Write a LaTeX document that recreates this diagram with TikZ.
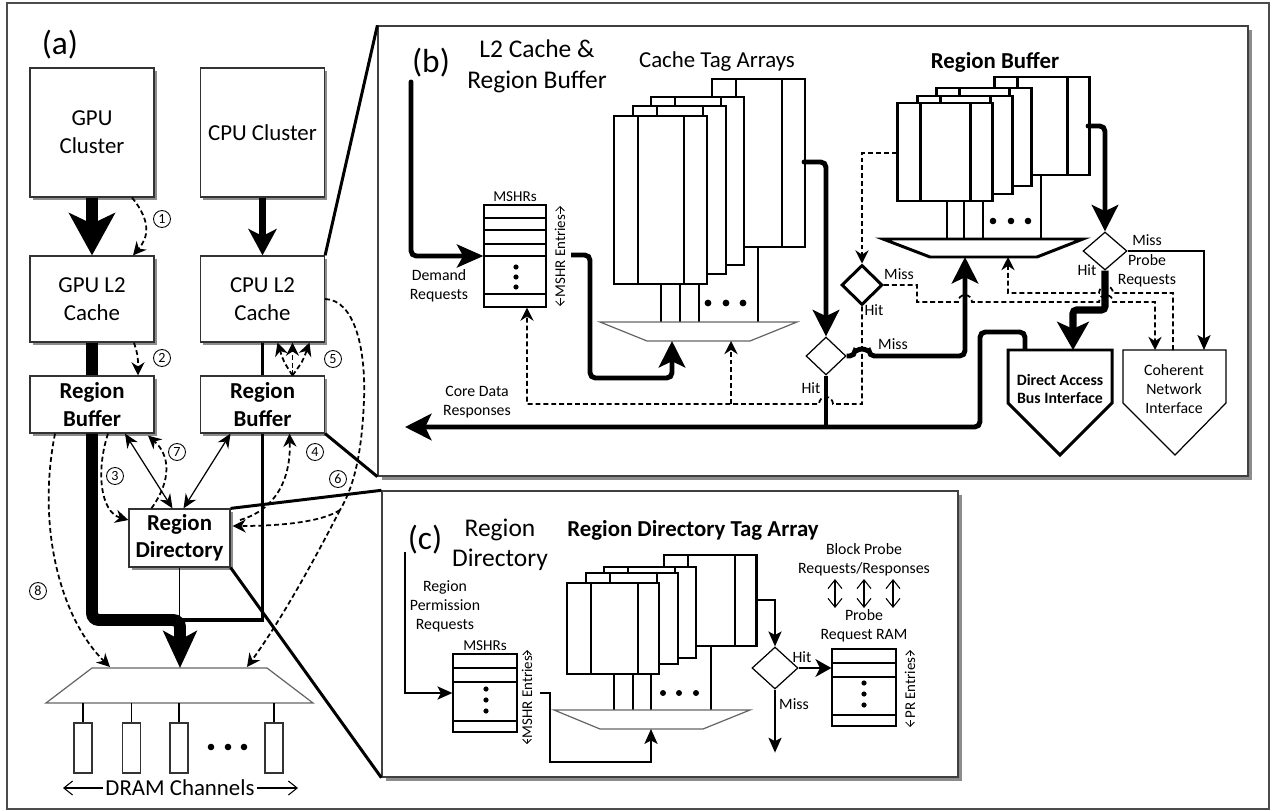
\documentclass[tikz,border=0pt]{standalone}
\usepackage{fontspec}
\setmainfont{Carlito}
\usetikzlibrary{arrows.meta,shapes.geometric,shadows,calc,positioning}
\newcommand\fsz[2]{\fontsize{#1}{#2}\selectfont}

\begin{document}
\begin{tikzpicture}[x=0.02cm, y=-0.02cm,
  box/.style={draw=black!80, line width=0.7pt, fill=white, align=center, inner sep=0pt,
    font=\fsz{13}{16}, drop shadow={shadow xshift=1.6pt, shadow yshift=-1.6pt, fill=black!45, opacity=1}},
  rbox/.style={box, font=\bfseries\fsz{13}{15.5}},
  panel/.style={draw=black!75, line width=0.8pt, fill=white, inner sep=0pt,
    drop shadow={shadow xshift=2.2pt, shadow yshift=-2.2pt, fill=black!45, opacity=1}},
  lbl/.style={font=\fsz{9}{10.8}, align=center, inner sep=1pt},
  cnum/.style={circle, draw, line width=0.5pt, inner sep=0pt, minimum size=0.34cm, font=\fsz{8}{8}},
  dsh/.style={line width=1pt, dash pattern=on 2.8pt off 1.7pt, -{Stealth[length=7.5pt,width=7.5pt]}},
  thk/.style={line width=2.8pt, rounded corners=3pt},
  bigtip/.style={-{Stealth[length=15pt,width=15pt,inset=3.5pt]}},
  tline/.style={line width=0.9pt, -{Stealth[length=8.5pt,width=7.5pt,inset=2pt]}},
  slim/.style={line width=0.6pt},
  tbl/.style={draw, line width=0.7pt, fill=white, inner sep=0pt},
  dia/.style={diamond, draw, line width=0.7pt, fill=white, inner sep=0pt},
  mux/.style={draw=black!60, line width=0.7pt, fill=white},
  entries/.style={rotate=90, font=\fsz{8.5}{9}, fill=white, inner sep=0.6pt},
  spanarr/.style={line width=0.5pt, {Straight Barb[length=2.5pt,width=5pt]}-{Straight Barb[length=2.5pt,width=5pt]}},
  openarr/.style={line width=0.6pt, -{Straight Barb[length=5pt,width=8pt]}},
  dbl/.style={line width=0.7pt, {Stealth[length=8pt,width=7pt]}-{Stealth[length=8pt,width=7pt]}},
]
\useasboundingbox (0,0) rectangle (1272,811);
\draw[black!70, line width=0.6pt] (7,3) rectangle (1269,809);

% panels (b) and (c)
\node[panel, minimum width=17.4cm, minimum height=9cm] (bfr) at (813,251) {};
\node[panel, minimum width=11.52cm, minimum height=5.72cm] (cfr) at (670,634) {};

% ---------------- (a) system ----------------
\node[font=\fsz{19}{20}] at (60,45) {(a)};
\node[box, minimum width=2.48cm, minimum height=2.58cm] (gpuc) at (92,132.5) {GPU\\Cluster};
\node[box, minimum width=2.48cm, minimum height=2.58cm] (cpuc) at (262.5,132.5) {CPU Cluster};
\node[box, minimum width=2.48cm, minimum height=1.72cm] (gpul2) at (92,299) {GPU L2\\Cache};
\node[box, minimum width=2.48cm, minimum height=1.72cm] (cpul2) at (262.5,299) {CPU L2\\Cache};
\node[rbox, minimum width=2.48cm, minimum height=1.14cm] (gpurb) at (92,404.5) {Region\\Buffer};
\node[rbox, minimum width=2.48cm, minimum height=1.14cm] (cpurb) at (262.5,404.5) {Region\\Buffer};
\node[rbox, minimum width=2.02cm, minimum height=1.16cm] (rdir) at (179.5,538) {Region\\Directory};

\draw[line width=6.8pt, -{Stealth[length=24pt,width=26pt,inset=6pt]}] (gpuc.south) -- (gpul2.north);
\draw[line width=4.5pt, -{Stealth[length=15pt,width=16pt,inset=4pt]}] (cpuc.south) -- (cpul2.north);
\draw[line width=6.8pt] (gpul2.south) -- (gpurb.north);
\draw[line width=2pt] (cpul2.south) -- (cpurb.north);

% DRAM side
\coordinate (dmuxtop) at (180,668);
\draw[mux] (92,668) -- (267,668) -- (313,703) -- (46,703) -- cycle;
\foreach \x/\n in {83/1,131.5/2,179/3,274/4} {
  \node[draw=black!80, line width=0.7pt, minimum width=0.36cm, minimum height=1cm, inner sep=0pt] (ch\n) at (\x,748) {};
  \draw[slim] (ch\n.north) -- (\x,703);
}
\foreach \x in {211,228,244} \fill (\x,747) circle (3.3);
\node[font=\fsz{13}{15}, inner sep=1pt] (dram) at (180,788) {DRAM Channels};
\draw[openarr] (dram.west) -- (63,788);
\draw[openarr] (dram.east) -- (298,788);

\draw[line width=6.8pt, rounded corners=4pt, -{Stealth[length=21pt,width=19pt,inset=5pt]}] (gpurb.south) |- (180,620) -- (dmuxtop);
\draw[line width=2.2pt] (cpurb.south) |- (180,620);
\draw[line width=0.7pt] (rdir.south) -- (179.5,620);

% numbered steps
\draw[dsh] ($(gpuc.south)+(40,0)$) .. controls (152,222) and (148,238) .. ($(gpul2.north)+(41,0)$);
\node[cnum] at (162,219) {1};
\draw[dsh] ($(gpul2.south)+(42,0)$) .. controls (138,356) .. ($(gpurb.north)+(46,0)$);
\node[cnum] at (162,358) {2};
\foreach \dx in {-15,0,17}
  \draw[dsh] ($(cpurb.north)+(30,0)$) .. controls ($(cpurb.north)+(30+0.6*\dx,-14)$) .. ($(cpul2.south)+(30+\dx,0)$);
\node[cnum] at (333,359) {5};
\draw[dsh] ($(gpurb.south)+(16,0)$) .. controls (96,470) and (100,512) .. ($(rdir.west)+(0,-18)$);
\node[cnum] at (115,476) {3};
\draw[dsh] ($(rdir.north west)+(23,0)$) .. controls (172,480) and (170,455) .. ($(gpurb.south)+(56,2)$);
\node[cnum] at (177,452) {7};
\draw[dbl] ($(gpurb.south)+(33,0)$) -- ($(rdir.north)+(-7,0)$);
\draw[dbl] ($(cpurb.south)+(-32,0)$) -- ($(rdir.north)+(4,0)$);
\draw[dsh] (240,520) .. controls (275,510) and (291,480) .. ($(cpurb.south)+(27,0)$);
\node[cnum] at (315,452) {4};
\coordinate (c6) at (340,510);
\draw[dsh, -] (cpul2.east) .. controls (355,300) and (366,350) .. (364,400) .. controls (362,450) and (355,485) .. (c6);
\draw[dsh] (c6) .. controls (322,545) and (285,615) .. (247,667);
\draw[dsh] (c6) .. controls (322,522) and (280,526) .. ($(rdir.east)+(2,-12)$);
\node[cnum] at (338,479) {6};
\draw[dsh] ($(gpurb.south)+(-37,0)$) .. controls (36,530) and (62,620) .. (110,667);
\node[cnum] at (38,591) {8};

% zoom lines
\draw[line width=1.7pt] (cpul2.north east) -- (bfr.north west);
\draw[line width=1.7pt] (cpurb.south east) -- (bfr.south west);
\draw[line width=1.7pt] (rdir.north east) -- (cfr.north west);
\draw[line width=1.7pt] (rdir.south east) -- (cfr.south west);

% ---------------- (b) L2 cache and region buffer ----------------
\node[font=\fsz{19}{20}] at (431,63) {(b)};
\node[font=\fsz{14.5}{17.6}, align=center] at (537,66) {L2 Cache \&\\Region Buffer};
\node[font=\fsz{13}{15}] at (717,62) {Cache Tag Arrays};

\node[tbl, minimum width=1.24cm, minimum height=2.04cm] (bmshr) at (515,256) {};
\foreach \y in {218,230,244,256,294} \draw[slim] (484,\y) -- (546,\y);
\foreach \y in {267,277,287} \fill (516,\y) circle (2.6);
\node[lbl, above=0.5pt of bmshr, font=\fsz{8.6}{9}] {MSHRs};
\draw[spanarr] (560,206) -- (560,306);
\node[entries] at (560,256) {MSHR Entries};

\coordinate (dreq) at (411,82);
\draw[thk, line cap=round, -{Stealth[length=15pt,width=13pt,inset=3.5pt]}] (dreq) |- (bmshr.west);
\node[lbl] at (439,286) {Demand\\Requests};

\foreach \x/\y in {712/79, 651/97, 633/106, 614/116} {
  \draw[slim, fill=white] (\x,\y) rectangle ++(93,168);
  \draw[slim] (\x+24,\y) -- ++(0,168) (\x+70,\y) -- ++(0,168);
}
\foreach \x/\t in {661/284,680/284,699/284,758/248} \draw[slim] (\x,\t) -- (\x,322);
\foreach \x in {708,726,743} \fill (\x,303) circle (3.4);
\draw[mux] (600,322) -- (797,322) -- (750,341) -- (647,341) -- cycle;

\coordinate (bmsout) at (571,255);
\coordinate (cmuxin) at (672,341);
\draw[thk, bigtip] (bmsout) -| (590,378) -| (cmuxin);

\node[dia, minimum width=0.8cm, minimum height=0.76cm] (bdia) at (826,356) {};
\coordinate (tagout) at (804,162);
\draw[thk, line cap=round, bigtip] (tagout) -| (bdia.north);
\draw[thk] (bdia.south) -- ++(0,52);
\node[lbl] at (811,388) {Hit};

% region buffer
\node[font=\bfseries\fsz{13}{15}] at (995,62) {Region Buffer};
\foreach \x/\y in {994/77, 936/88, 917/96, 897/103} {
  \draw[line width=1.7pt, fill=white] (\x,\y) rectangle ++(95,98);
  \draw[line width=1.7pt] (\x+23,\y) -- ++(0,98) (\x+73,\y) -- ++(0,98);
}
\foreach \x/\t in {947/201,964/201,983/201,1041/175} \draw[slim] (\x,\t) -- (\x,239);
\foreach \x in {993,1011,1028} \fill (\x,221) circle (3.3);
\draw[line width=1.7pt, fill=white] (883,239) -- (1083,239) -- (1037,257) -- (930,257) -- cycle;

\node[dia, minimum width=0.88cm, minimum height=0.76cm] (rdia) at (1105,251) {};
\coordinate (rbout) at (1088,126);
\draw[thk, line cap=round, bigtip] (rbout) -| (rdia.north);
\node[lbl] at (1147,240) {Miss};
\node[lbl] at (1147,271) {Probe\\Requests};
\node[lbl] at (1087,270) {Hit};

% interfaces
\coordinate (dabitop) at (1060,350);
\coordinate (cnitop) at (1175,350);
\draw[line width=1.7pt, fill=white] (1008,350) -- (1112,350) -- (1112,403) -- (1060,455) -- (1008,403) -- cycle;
\node[font=\bfseries\fsz{9}{10.8}, align=center] (dabi) at (1060,389) {Direct Access\\Bus Interface};
\draw[line width=0.7pt, fill=white] (1123,350) -- (1226,350) -- (1226,403) -- (1175,455) -- (1123,403) -- cycle;
\node[lbl] (cni) at (1174,389) {Coherent\\Network\\Interface};

\draw[tline] (rdia.east) -| ($(cnitop)+(29,0)$);
\draw[line width=4pt, rounded corners=2pt, -{Stealth[length=16pt,width=18pt,inset=4pt]}] (rdia.south) |- ($(dabitop)+(13,-40)$) -- ($(dabitop)+(13,0)$);
\draw[thk, -{Stealth[length=15pt,width=15pt,inset=3.5pt]}] ($(dabitop)+(-35,0)$) -- ++(0,-18) -| (980,427) -- (405,427);
\node[lbl] at (477,402) {Core Data\\Responses};

% region buffer lookup
\node[dia, line width=1.7pt, minimum width=0.82cm, minimum height=0.8cm] (tdia) at (862,285) {};
\coordinate (rbleft) at (897,153);
\draw[dsh] (rbleft) -| (tdia.north);
\node[lbl] at (899,274) {Miss};
\node[lbl] at (874,310) {Hit};
\draw[thk, bigtip] (bdia.east) -- (855,356) arc (180:360:7) -- (965,356) -- (965,257);
\node[lbl] at (893,344) {Miss};
\draw[dsh] (tdia.east) -| (917,302) -- (958,302) arc (180:360:7) -- (1099,302) arc (180:360:7) -- (1155,302) -- ($(cnitop)+(-20,0)$);
\draw[dsh] ($(cnitop)+(-2,0)$) |- (1113,293) arc (0:-180:7) -- (1008,293) -- (1008,257);
\draw[dsh] (tdia.south) -- (862,404) -- (833,404) arc (0:-180:7) -- (527,404) -- ($(bmshr.south)+(12,0)$);
\draw[dsh] (731,404) -- (731,341);

% ---------------- (c) region directory ----------------
\node[font=\fsz{19}{20}] at (425,540) {(c)};
\node[font=\fsz{14.5}{17}, align=center] at (500,545) {Region\\Directory};
\node[font=\bfseries\fsz{13}{15}] at (693,530) {Region Directory Tag Array};
\node[lbl] at (445,606) {Region\\Permission\\Requests};

\node[tbl, minimum width=1.28cm, minimum height=1.56cm] (cmshr) at (485,693) {};
\foreach \y in {668,682,721} \draw[slim] (453,\y) -- (517,\y);
\foreach \y in {689,700,711} \fill (486,\y) circle (2.6);
\node[lbl, above=0.5pt of cmshr, font=\fsz{8.6}{9}] {MSHRs};
\draw[spanarr] (527,650) -- (527,744);
\node[entries] at (527,697) {MSHR Entries};
\coordinate (rpreq) at (405,552);
\draw[tline] (rpreq) |- (cmshr.west);

\foreach \x/\y in {664/555, 604/567, 586/573, 567/583} {
  \draw[line width=1.7pt, fill=white] (\x,\y) rectangle ++(92,91);
  \draw[line width=1.7pt] (\x+24,\y) -- ++(0,91) (\x+71,\y) -- ++(0,91);
}
\foreach \x/\t in {614/674,633/674,651/674,711/646} \draw[slim] (\x,\t) -- (\x,710);
\foreach \x in {663,679,696} \fill (\x,693) circle (3);
\draw[mux] (554,710) -- (750,710) -- (703,729) -- (600,729) -- cycle;

\coordinate (cmsout) at (540,693);
\coordinate (rdmuxin) at (651,729);
\draw[tline] (cmsout) -| (550,762) -| (rdmuxin);

\node[dia, minimum width=0.92cm, minimum height=0.84cm] (cdia) at (775,668) {};
\coordinate (rdout) at (756,600);
\draw[tline] (rdout) -| (cdia.north);
\node[tbl, minimum width=1.28cm, minimum height=1.54cm] (prram) at (864,687.5) {};
\foreach \y in {663,677,715} \draw[slim] (832,\y) -- (896,\y);
\foreach \y in {683,694,705} \fill (864,\y) circle (2.6);
\draw[line width=1.7pt, -{Stealth[length=9pt,width=10pt,inset=2.5pt]}] (cdia.east) -- (cdia.east -| prram.west);
\node[lbl] at (802,657) {Hit};
\draw[tline] (cdia.south) -- ++(0,63);
\node[lbl] at (794,704) {Miss};
\node[lbl] at (864,626) {Probe\\Request RAM};
\node[lbl] at (864,560) {Block Probe\\Requests/Responses};
\foreach \x in {835,864,893}
  \draw[line width=0.6pt, {Straight Barb[length=5pt,width=8pt]}-{Straight Barb[length=5pt,width=8pt]}] (\x,579) -- (\x,608);
\draw[spanarr] (910,650) -- (910,727);
\node[entries] at (910,688) {PR Entries};
\end{tikzpicture}
\end{document}
